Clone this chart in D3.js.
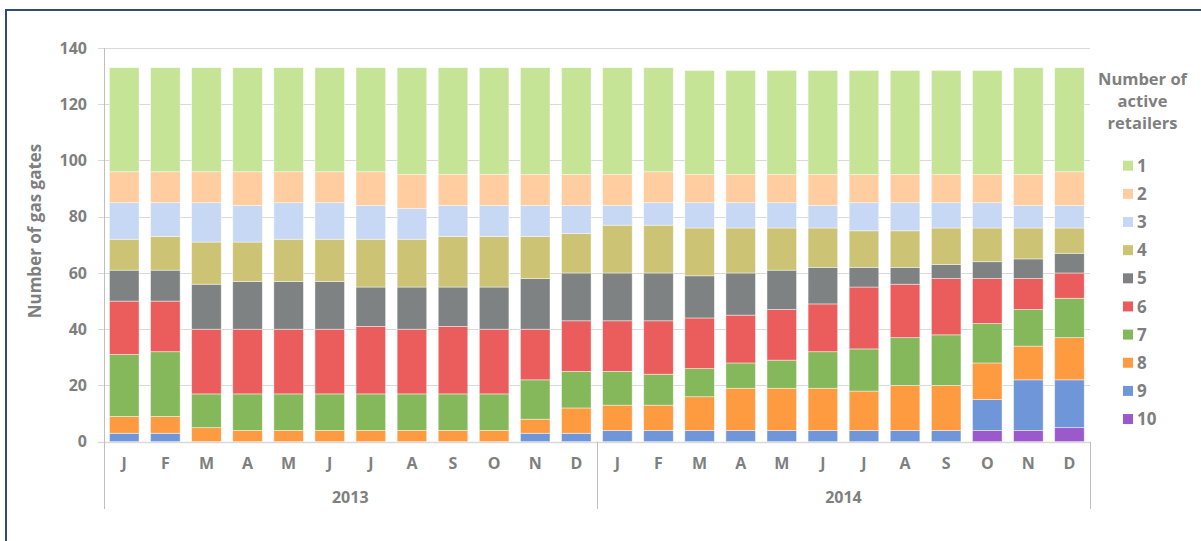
<!DOCTYPE html>
<html>
<head>
<meta charset="utf-8">
<script src="https://cdn.jsdelivr.net/npm/d3@7"></script>
<style>
  html, body { margin: 0; padding: 0; background: #fff; }
  svg text { font-family: "Open Sans", "Noto Sans", sans-serif; font-weight: bold; fill: #7f7f7f; }
</style>
</head>
<body>
<svg id="chart" width="1201" height="541"></svg>
<script>
// Months (two years of monthly observations)
const months = ["J","F","M","A","M","J","J","A","S","O","N","D","J","F","M","A","M","J","J","A","S","O","N","D"];
const years = ["2013", "2014"];
// Number of gas gates with N active retailers, per month (bottom series = 10 retailers)
const retailers10 = [0,0,0,0,0,0,0,0,0,0,0,0, 0,0,0,0,0,0,0,0,0,4,4,5];
const retailers9  = [3,3,0,0,0,0,0,0,0,0,3,3, 4,4,4,4,4,4,4,4,4,11,18,17];
const retailers8  = [6,6,5,4,4,4,4,4,4,4,5,9, 9,9,12,15,15,15,14,16,16,13,12,15];
const retailers7  = [22,23,12,13,13,13,13,13,13,13,14,13, 12,11,10,9,10,13,15,17,18,14,13,14];
const retailers6  = [19,18,23,23,23,23,24,23,24,23,18,18, 18,19,18,17,18,17,22,19,20,16,11,9];
const retailers5  = [11,11,16,17,17,17,14,15,14,15,18,17, 17,17,15,15,14,13,7,6,5,6,7,7];
const retailers4  = [11,12,15,14,15,15,17,17,18,18,15,14, 17,17,17,16,15,14,13,13,13,12,11,9];
const retailers3  = [13,12,14,13,13,13,12,11,11,11,11,10, 7,8,9,9,9,8,10,10,9,9,8,8];
const retailers2  = [11,11,11,12,11,11,12,12,11,11,11,11, 11,11,10,10,10,11,10,10,10,10,11,12];
const retailers1  = [37,37,37,37,37,37,37,38,38,38,38,38, 38,37,37,37,37,37,37,37,37,37,38,37];
const seriesNames = ["1","2","3","4","5","6","7","8","9","10"];
const yTicks = [0, 20, 40, 60, 80, 100, 120, 140];

const colors = {
  "1": "#c5e496", "2": "#ffcd9f", "3": "#c6d8f3", "4": "#cdc374", "5": "#7f8282",
  "6": "#eb5d5d", "7": "#84b85b", "8": "#fe9b40", "9": "#7096da", "10": "#9b59cb"
};

const valuesBySeries = {
  "1": retailers1, "2": retailers2, "3": retailers3, "4": retailers4, "5": retailers5,
  "6": retailers6, "7": retailers7, "8": retailers8, "9": retailers9, "10": retailers10
};

// Row table for d3.stack
const rows = months.map((m, i) => {
  const r = { key: i, month: m };
  seriesNames.forEach(s => { r[s] = valuesBySeries[s][i]; });
  return r;
});

// Stack from the bottom: 10 retailers first, 1 retailer on top
const stackOrder = seriesNames.slice().reverse();
const stacked = d3.stack().keys(stackOrder)(rows);

const svg = d3.select("#chart");

// Outer frame
svg.append("path")
  .attr("d", "M6,560 L6,10 L1210,10")
  .attr("fill", "none")
  .attr("stroke", "#2e4a78")
  .attr("stroke-width", 2);

const plot = { left: 103.7, right: 1090, top: 48, bottom: 441.7 };

const x = d3.scaleBand()
  .domain(d3.range(months.length))
  .range([plot.left, plot.right])
  .paddingInner(0.28)
  .paddingOuter(0.14);

const y = d3.scaleLinear()
  .domain([0, 140])
  .range([plot.bottom, plot.top]);

// Gridlines
svg.append("g")
  .selectAll("line")
  .data(yTicks)
  .join("line")
  .attr("x1", 98)
  .attr("x2", plot.right)
  .attr("y1", d => Math.round(y(d)) + 0.5)
  .attr("y2", d => Math.round(y(d)) + 0.5)
  .attr("stroke", "#d9d9d9")
  .attr("stroke-width", 1);

// Y tick labels
svg.append("g")
  .selectAll("text")
  .data(yTicks)
  .join("text")
  .attr("x", 87)
  .attr("y", d => y(d))
  .attr("dy", "0.36em")
  .attr("text-anchor", "end")
  .attr("font-size", 16)
  .text(d => d);

// Bars
svg.append("g")
  .selectAll("g")
  .data(stacked)
  .join("g")
  .attr("fill", d => colors[d.key])
  .selectAll("rect")
  .data(d => d)
  .join("rect")
  .attr("x", (d, i) => x(i))
  .attr("width", x.bandwidth())
  .attr("y", d => y(d[1]))
  .attr("height", d => Math.max(0, y(d[0]) - y(d[1])))
  .attr("stroke", "#ffffff")
  .attr("stroke-opacity", 0.55)
  .attr("stroke-width", 0.8);

// Category axis lines: baseline, left edge, year divider, right edge
const axisG = svg.append("g").attr("stroke", "#bfbfbf").attr("stroke-width", 1);
axisG.append("line")
  .attr("x1", 98).attr("x2", plot.right)
  .attr("y1", Math.round(y(0)) + 0.5).attr("y2", Math.round(y(0)) + 0.5)
  .attr("stroke", "#d9d9d9").attr("stroke-width", 1.5);
const dividers = [plot.left, (x(11) + x.bandwidth() + x(12)) / 2, plot.right];
axisG.selectAll("line.div")
  .data(dividers)
  .join("line")
  .attr("class", "div")
  .attr("x1", d => Math.round(d) + 0.5)
  .attr("x2", d => Math.round(d) + 0.5)
  .attr("y1", (d, i) => i === 0 ? plot.top : plot.bottom)
  .attr("y2", 509);

// Month labels
svg.append("g")
  .selectAll("text")
  .data(months)
  .join("text")
  .attr("x", (d, i) => x(i) + x.bandwidth() / 2)
  .attr("y", 463)
  .attr("dy", "0.36em")
  .attr("text-anchor", "middle")
  .attr("font-size", 16)
  .text(d => d);

// Year labels
svg.append("g")
  .selectAll("text")
  .data(years)
  .join("text")
  .attr("x", (d, i) => (dividers[i] + dividers[i + 1]) / 2)
  .attr("y", 497)
  .attr("dy", "0.36em")
  .attr("text-anchor", "middle")
  .attr("font-size", 16)
  .text(d => d);

// Y axis title
svg.append("text")
  .attr("transform", "translate(35,231) rotate(-90)")
  .attr("text-anchor", "middle")
  .attr("dy", "0.36em")
  .attr("font-size", 17)
  .text("Number of gas gates");

// Legend
const legend = svg.append("g");
legend.selectAll("text.title")
  .data(["Number of", "active", "retailers"])
  .join("text")
  .attr("class", "title")
  .attr("x", 1142.5)
  .attr("y", (d, i) => 79 + i * 22)
  .attr("dy", "0.36em")
  .attr("text-anchor", "middle")
  .attr("font-size", 16.5)
  .text(d => d);

const items = legend.selectAll("g.item")
  .data(seriesNames)
  .join("g")
  .attr("class", "item")
  .attr("transform", (d, i) => `translate(1123,${165.7 + i * 28.15})`);
items.append("rect")
  .attr("x", 0).attr("y", -5)
  .attr("width", 10).attr("height", 10)
  .attr("fill", d => colors[d]);
items.append("text")
  .attr("x", 14)
  .attr("y", 0)
  .attr("dy", "0.36em")
  .attr("font-size", 17)
  .text(d => d);
</script>
</body>
</html>
